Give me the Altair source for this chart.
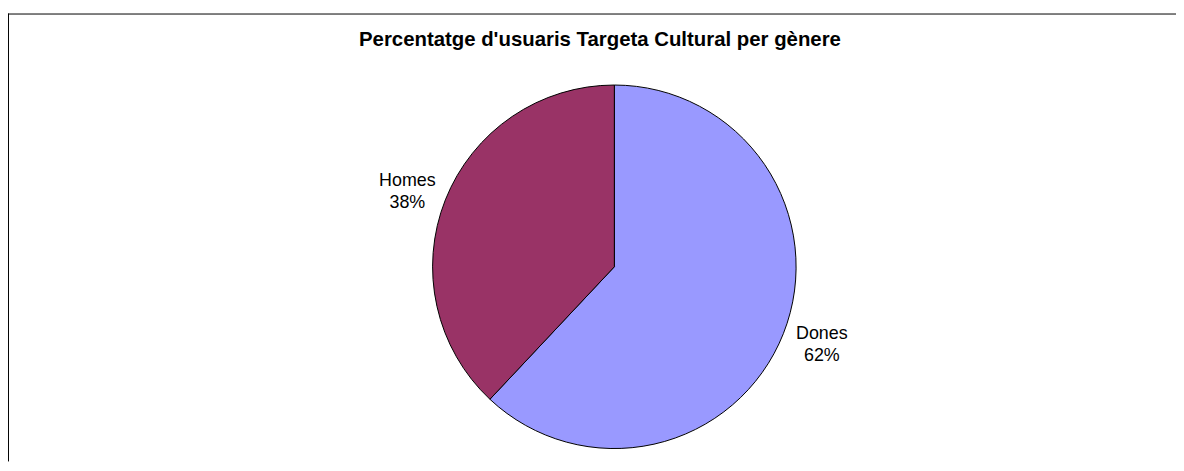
import altair as alt
import pandas as pd

# ---- data ----
categories = ["Dones", "Homes"]
percentages = [62, 38]
colors = ["#9999FF", "#993366"]
title_text = "Percentatge d'usuaris Targeta Cultural per gènere"

df = pd.DataFrame({
    "categoria": categories,
    "percentatge": percentages,
    "ordre": list(range(len(categories))),
})
df["etiqueta"] = df["categoria"] + "\n" + df["percentatge"].astype(str) + "%"

W, H = 1176, 451
CX, CY = 610.5, 255
R = 183

base = alt.Chart(df).encode(
    theta=alt.Theta("percentatge:Q", stack=True),
    order=alt.Order("ordre:Q"),
)

pie = base.mark_arc(outerRadius=R, stroke="black", strokeWidth=1).encode(
    color=alt.Color("categoria:N",
                    scale=alt.Scale(domain=categories, range=colors),
                    legend=None),
    x=alt.value(CX),
    y=alt.value(CY),
)


def label_layer(cat, dx, dy):
    return base.mark_text(
        radius=222, fontSize=18, font="Liberation Sans", lineBreak="\n",
        lineHeight=23, align="center", baseline="middle", color="black",
        dx=dx, dy=dy,
    ).encode(
        text="etiqueta:N",
        x=alt.value(CX),
        y=alt.value(CY),
        opacity=alt.condition(alt.datum.categoria == cat, alt.value(1), alt.value(0)),
    )


labels_homes = label_layer("Homes", -2, -5)
labels_dones = label_layer("Dones", 2.5, -14.5)

title = alt.Chart(pd.DataFrame({"t": [title_text]})).mark_text(
    fontSize=20.5, fontWeight="bold", font="Liberation Sans",
    align="center", baseline="middle", color="black",
).encode(text="t:N", x=alt.value(596), y=alt.value(27))

frame_df = pd.DataFrame({"a": [0]})
top_border = alt.Chart(frame_df).mark_rule(color="black", strokeWidth=1).encode(
    x=alt.value(0), x2=alt.value(W), y=alt.value(0.5)
)
left_border = alt.Chart(frame_df).mark_rule(color="black", strokeWidth=1).encode(
    x=alt.value(0.5), y=alt.value(0), y2=alt.value(H)
)

chart = alt.layer(pie, labels_homes, labels_dones, title, top_border, left_border).properties(
    width=W, height=H,
    autosize=alt.AutoSizeParams(type="none"),
    padding={"left": 0, "top": 4, "right": 0, "bottom": 0},
).configure_view(stroke=None)

chart.save("out.html", embed_options={"renderer": "svg", "actions": False})
